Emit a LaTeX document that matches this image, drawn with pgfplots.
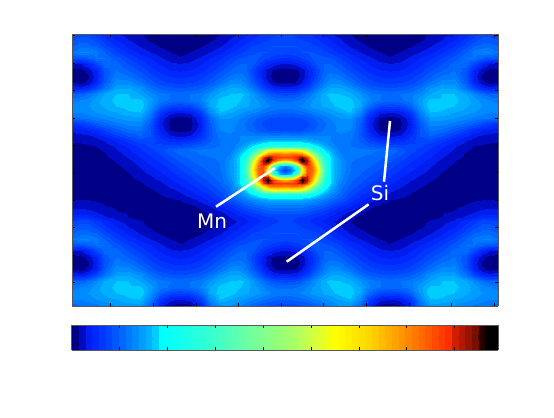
\documentclass[border=0pt]{standalone}
\usepackage{fontspec}
\setmainfont{DejaVu Sans}
\usepackage{pgfplots}
\usepackage{pgfplotstable}
\pgfplotsset{compat=1.18}
\pgfplotsset{colormap={hotjetbase}{
        rgb255(0)=(0,0,135) rgb255(1)=(0,10,190) rgb255(2)=(0,30,240)
        rgb255(3)=(0,40,255) rgb255(5)=(0,70,255) rgb255(8)=(0,120,255)
        rgb255(11)=(0,175,255) rgb255(12)=(0,205,255) rgb255(13)=(0,255,255)
        rgb255(20)=(50,255,210) rgb255(26)=(110,255,160) rgb255(33)=(170,255,100)
        rgb255(36)=(215,255,60) rgb255(39)=(255,255,0) rgb255(44)=(255,215,0)
        rgb255(50)=(255,135,0) rgb255(56)=(255,45,0) rgb255(57)=(210,30,0)
        rgb255(60)=(120,15,0) rgb255(61)=(40,0,0) rgb255(62)=(0,0,0) rgb255(63)=(0,0,0)
    },
    colormap={hotjet}{samples of colormap={64 of hotjetbase}}}
% left half of the map in image pixel coordinates, right half is the mirror about x=285
% upper band, repeats 187 px further down
\pgfplotstableread{
x y z
72 34 5
80 34 5.5
88 34 5.5
96 34 4.5
104 34 3.5
116 34 2.2
128 34 1.5
140 34 1.1
150 34 .7
160 34 .5
170 34 .3
180 34 .3
190 34 .3
200 34 .5
210 34 .7
220 34 1
230 34 1.6
240 34 2.2
246 34 2.8
252 34 3.3
258 34 3.8
263 34 4.2
268 34 4.5
273 34 4.8
279 34 5
285 34 5
72 40 6
80 40 6.5
88 40 6.5
96 40 5.5
104 40 4.5
116 40 3
128 40 2
140 40 1.3
150 40 .9
160 40 .6
170 40 .4
180 40 .3
190 40 .4
200 40 .6
210 40 .9
220 40 1.3
230 40 2.1
240 40 3
246 40 3.5
252 40 4
258 40 4.5
263 40 4.8
268 40 5
273 40 5.3
279 40 5.5
285 40 5.5
72 46 7
80 46 7.5
88 46 7.5
96 46 7
104 46 5.5
116 46 4
128 46 2.8
140 46 1.9
150 46 1.3
160 46 .9
170 46 .6
180 46 .5
190 46 .6
200 46 .9
210 46 1.3
220 46 1.9
230 46 2.8
240 46 3.8
246 46 4.4
252 46 5
258 46 5.3
263 46 5.6
268 46 5.8
273 46 6
279 46 6
285 46 6
72 52 8
80 52 9
88 52 9
96 52 8.5
104 52 7
116 52 5.2
128 52 3.8
140 52 2.7
150 52 2
160 52 1.4
170 52 1
180 52 .7
190 52 1
200 52 1.4
210 52 2
220 52 2.7
230 52 3.8
240 52 4.8
246 52 5.3
252 52 5.8
258 52 6
263 52 6
268 52 6
273 52 5.8
279 52 5.6
285 52 5.5
72 58 6
80 58 6
88 58 7
96 58 8
104 58 8
116 58 6.5
128 58 5
140 58 3.8
150 58 3
160 58 2.2
170 58 1.5
180 58 1.1
190 58 1.5
200 58 2.2
210 58 3
220 58 3.8
230 58 5
240 58 6
246 58 6.3
252 58 6.3
258 58 6
263 58 5.5
268 58 5
273 58 4.5
279 58 4
285 58 3.8
72 64 2
80 64 1.8
88 64 3
96 64 5.5
104 64 7.5
116 64 7.5
128 64 6
140 64 4.8
150 64 3.8
160 64 2.9
170 64 2.3
180 64 2.1
190 64 2.3
200 64 2.9
210 64 3.8
220 64 4.8
230 64 6
240 64 7
246 64 7
252 64 6.5
258 64 5
263 64 4
268 64 3.2
273 64 2.5
279 64 2
285 64 1.8
72 70 .8
80 70 .6
88 70 1.3
96 70 3
104 70 6.5
116 70 8
128 70 7
140 70 5.8
150 70 4.5
160 70 3.6
170 70 3
180 70 2.8
190 70 3
200 70 3.6
210 70 4.5
220 70 5.8
230 70 7
240 70 7.5
246 70 7
252 70 5.5
258 70 3.8
263 70 2.5
268 70 1.5
273 70 .9
279 70 .7
285 70 .6
72 76 .6
80 76 .4
88 76 .9
96 76 2.5
104 76 6
116 76 8.8
128 76 8.2
140 76 6.8
150 76 5.5
160 76 4.5
170 76 3.9
180 76 3.7
190 76 3.9
200 76 4.5
210 76 5.5
220 76 6.8
230 76 8.2
240 76 8.6
246 76 7.8
252 76 6
258 76 4
263 76 2.5
268 76 1.3
273 76 .7
279 76 .5
285 76 .4
72 82 .9
80 82 .6
88 82 1.2
96 82 3
104 82 6.5
116 82 9.5
128 82 9.5
140 82 8
150 82 6.5
160 82 5.4
170 82 4.9
180 82 4.6
190 82 4.9
200 82 5.4
210 82 6.5
220 82 8
230 82 9.5
240 82 9.5
246 82 8.5
252 82 6.8
258 82 5
263 82 3.3
268 82 2
273 82 1.1
279 82 .8
285 82 .7
72 88 3
80 88 2.5
88 88 3.5
96 88 5.5
104 88 8
116 88 10.8
128 88 11
140 88 10
150 88 8
160 88 6.8
170 88 6.3
180 88 6
190 88 6.3
200 88 6.8
210 88 8.2
220 88 10
230 88 11
240 88 11
246 88 10
252 88 8.5
258 88 6.8
263 88 5.3
268 88 4
273 88 3
279 88 2.6
285 88 2.5
72 94 7
80 94 7
88 94 8
96 94 9.5
104 94 11
116 94 12
128 94 12
140 94 11
150 94 9.5
160 94 8.5
170 94 8
180 94 7.8
190 94 8
200 94 8.5
210 94 10
220 94 11.5
230 94 12
240 94 12.3
246 94 11.8
252 94 10.5
258 94 9
263 94 8
268 94 7
273 94 6.2
279 94 5.8
285 94 5.6
72 100 8.5
80 100 9
88 100 9.5
96 100 10.5
104 100 11.5
116 100 12.3
128 100 12.3
140 100 12.3
150 100 10.5
160 100 8.5
170 100 7.8
180 100 7.5
190 100 8
200 100 9
210 100 11
220 100 12.3
230 100 12.2
240 100 12
246 100 11.5
252 100 10.8
258 100 10
263 100 9.3
268 100 8.5
273 100 8
279 100 7.8
285 100 7.8
72 106 9.3
80 106 9.5
88 106 10
96 106 10.5
104 106 11.2
116 106 12
128 106 12.5
140 106 12.8
150 106 10.2
160 106 7
170 106 5.5
180 106 5
190 106 5.5
200 106 7.5
210 106 11
220 106 12.8
230 106 12.5
240 106 11.5
246 106 11.2
252 106 10.8
258 106 10.3
263 106 9.8
268 106 9.3
273 106 8.8
279 106 8.5
285 106 8.5
72 112 9
80 112 9
88 112 9.5
96 112 10
104 112 10.5
116 112 11
128 112 11.8
140 112 12
150 112 9
160 112 4.5
170 112 2.5
180 112 2
190 112 2.5
200 112 4.8
210 112 9.5
220 112 12
230 112 11.2
240 112 10.3
246 112 9.8
252 112 9.3
258 112 8.8
263 112 8.2
268 112 7.8
273 112 7.5
279 112 7.2
285 112 7.2
72 118 7.5
80 118 8
88 118 8.3
96 118 8.8
104 118 9.3
116 118 10
128 118 10.5
140 118 10.5
150 118 7.5
160 118 2.8
170 118 1
180 118 .5
190 118 .8
200 118 2.8
210 118 7.5
220 118 10
230 118 10
240 118 9
246 118 8.3
252 118 7.5
258 118 6.8
263 118 6.2
268 118 6
273 118 5.8
279 118 5.7
285 118 5.7
72 124 4
80 124 4.5
88 124 5.5
96 124 6.5
104 124 7.5
116 124 8.5
128 124 9.3
140 124 9.3
150 124 6.5
160 124 2.3
170 124 .8
180 124 .3
190 124 .6
200 124 2.3
210 124 6.8
220 124 9.5
230 124 9.5
240 124 8.5
246 124 7.8
252 124 7
258 124 6.3
263 124 5.8
268 124 5.6
273 124 5.5
279 124 5.4
285 124 5.4
72 130 2.2
80 130 2.5
88 130 3
96 130 3.8
104 130 5
116 130 6.5
128 130 7.8
140 130 8.2
150 130 6.2
160 130 2.8
170 130 1
180 130 .6
190 130 .9
200 130 2.8
210 130 6.5
220 130 9
230 130 9.3
240 130 8.7
246 130 8.2
252 130 7.5
258 130 6.8
263 130 6.3
268 130 6
273 130 5.9
279 130 5.9
285 130 6
}\upperband
% middle band with the basins and the ring
\pgfplotstableread{
x y z
72 130 2.2
80 130 2.5
88 130 3
96 130 3.8
104 130 5
116 130 6.5
128 130 7.8
140 130 8.2
150 130 6.2
160 130 2.8
170 130 1
180 130 .6
190 130 .9
200 130 2.8
210 130 6.5
220 130 9
230 130 9.3
240 130 8.7
246 130 8.2
252 130 7.5
258 130 6.8
263 130 6.3
268 130 6
273 130 5.9
279 130 5.9
285 130 6
72 136 1.5
80 136 1.6
88 136 1.8
96 136 2.2
104 136 3
116 136 4.5
128 136 6
140 136 7
150 136 6
160 136 3.8
170 136 2.2
180 136 1.8
190 136 2.2
200 136 3.8
210 136 6.5
220 136 8.5
230 136 8.8
240 136 9
246 136 9
252 136 9
258 136 9
263 136 9
268 136 9
273 136 9
279 136 9
285 136 9
72 140 1.2
80 140 1.2
88 140 1.3
96 140 1.6
104 140 2.1
116 140 3.2
128 140 4.5
140 140 5.8
150 140 5.8
160 140 4.5
170 140 3.5
180 140 3.2
190 140 3.8
200 140 5
210 140 6.8
220 140 8
230 140 8.3
240 140 9
246 140 9.5
252 140 10
258 140 10.5
263 140 11
268 140 11
273 140 11
279 140 11
285 140 11
72 146 .8
80 146 .8
88 146 .9
96 146 1
104 146 1.4
116 146 2.2
128 146 3.2
140 146 4.3
150 146 5.2
160 146 5.5
170 146 5.5
180 146 5.8
190 146 6.3
200 146 6.8
210 146 7.5
220 146 8
230 146 8.3
240 146 10
246 146 11.5
252 146 13
258 146 14.5
263 146 16
268 146 17
273 146 17.5
279 146 18
285 146 18
72 150 .7
80 150 .7
88 150 .7
96 150 .8
104 150 1.1
116 150 1.9
128 150 2.8
140 150 3.8
150 150 4.7
160 150 5.5
170 150 6.8
180 150 7.8
190 150 8
200 150 8.2
210 150 8.4
220 150 8.5
230 150 8.5
240 150 11.5
246 150 13
252 150 16
258 150 24
263 150 32
268 150 38
273 150 40
279 150 40
285 150 40
72 154 .6
80 154 .6
88 154 .6
96 154 .7
104 154 .9
116 154 1.5
128 154 2.4
140 154 3.3
150 154 4.2
160 154 5
170 154 6.2
180 154 7.2
190 154 7.6
200 154 8
210 154 8.2
220 154 8.3
230 154 9
240 154 12.5
246 154 15
252 154 24
258 154 33
263 154 43
268 154 50
273 154 52
279 154 52
285 154 51
72 157 .5
80 157 .5
88 157 .5
96 157 .6
104 157 .8
116 157 1.3
128 157 2.1
140 157 3
150 157 3.8
160 157 4.7
170 157 5.7
180 157 6.8
190 157 7.3
200 157 7.7
210 157 8
220 157 8.2
230 157 9.5
240 157 13
246 157 17
252 157 28
258 157 42
263 157 55
268 157 60
273 157 57
279 157 55
285 157 55
72 160 .5
80 160 .5
88 160 .5
96 160 .5
104 160 .7
116 160 1.1
128 160 1.8
140 160 2.7
150 160 3.5
160 160 4.3
170 160 5.2
180 160 6.3
190 160 7
200 160 7.5
210 160 7.8
220 160 8.1
230 160 10
240 160 13
246 160 19
252 160 32
258 160 47
263 160 59
268 160 63.5
273 160 56
279 160 50
285 160 47
72 163 .4
80 163 .4
88 163 .4
96 163 .4
104 163 .6
116 163 1
128 163 1.5
140 163 2.4
150 163 3.2
160 163 3.9
170 163 4.8
180 163 5.9
190 163 6.7
200 163 7.3
210 163 7.7
220 163 8
230 163 10
240 163 13
246 163 20
252 163 35
258 163 50
263 163 58
268 163 59
273 163 44
279 163 30
285 163 28
72 166 .3
80 166 .3
88 166 .3
96 166 .4
104 166 .5
116 166 .8
128 166 1.3
140 166 2.1
150 166 2.9
160 166 3.6
170 166 4.4
180 166 5.4
190 166 6.3
200 166 7
210 166 7.5
220 166 8
230 166 10
240 166 13
246 166 21
252 166 38
258 166 52
263 166 55
268 166 45
273 166 22
279 166 12
285 166 9
72 170 .3
80 170 .3
88 170 .3
96 170 .3
104 170 .4
116 170 .7
128 170 1.1
140 170 1.8
150 170 2.5
160 170 3.2
170 170 4
180 170 4.9
190 170 5.9
200 170 6.7
210 170 7.3
220 170 8
230 170 10
240 170 13
246 170 23
252 170 41
258 170 53
263 170 54
268 170 39
273 170 15
279 170 8
285 170 4.5
72 174 .3
80 174 .3
88 174 .3
96 174 .3
104 174 .3
116 174 .5
128 174 .9
140 174 1.5
150 174 2.1
160 174 2.8
170 174 3.5
180 174 4.4
190 174 5.3
200 174 6.2
210 174 7
220 174 7.7
230 174 10
240 174 13
246 174 21
252 174 38
258 174 52
263 174 55
268 174 45
273 174 22
279 174 12
285 174 9
72 177 .3
80 177 .3
88 177 .3
96 177 .3
104 177 .3
116 177 .5
128 177 .8
140 177 1.3
150 177 1.8
160 177 2.4
170 177 3.1
180 177 4
190 177 4.9
200 177 5.8
210 177 6.7
220 177 7.5
230 177 9.8
240 177 13
246 177 20
252 177 35
258 177 50
263 177 58
268 177 59
273 177 44
279 177 30
285 177 28
72 180 .3
80 180 .3
88 180 .3
96 180 .3
104 180 .3
116 180 .4
128 180 .7
140 180 1.1
150 180 1.6
160 180 2.1
170 180 2.8
180 180 3.6
190 180 4.5
200 180 5.4
210 180 6.4
220 180 7.3
230 180 9.5
240 180 13
246 180 19
252 180 32
258 180 47
263 180 59
268 180 63.5
273 180 56
279 180 50
285 180 47
72 183 .3
80 183 .3
88 183 .3
96 183 .3
104 183 .3
116 183 .4
128 183 .6
140 183 .9
150 183 1.3
160 183 1.8
170 183 2.5
180 183 3.2
190 183 4.1
200 183 5
210 183 6
220 183 7
230 183 9
240 183 13
246 183 17
252 183 28
258 183 42
263 183 55
268 183 60
273 183 57
279 183 55
285 183 55
72 186 .3
80 186 .3
88 186 .3
96 186 .3
104 186 .3
116 186 .3
128 186 .5
140 186 .8
150 186 1.1
160 186 1.5
170 186 2.2
180 186 2.8
190 186 3.6
200 186 4.6
210 186 5.6
220 186 6.7
230 186 8.5
240 186 12
246 186 15
252 186 24
258 186 33
263 186 43
268 186 50
273 186 52
279 186 52
285 186 51
72 190 .4
80 190 .4
88 190 .3
96 190 .3
104 190 .3
116 190 .3
128 190 .4
140 190 .6
150 190 .9
160 190 1.2
170 190 1.7
180 190 2.3
190 190 3
200 190 4
210 190 5
220 190 6.2
230 190 8
240 190 11
246 190 13
252 190 16
258 190 24
263 190 32
268 190 38
273 190 40
279 190 40
285 190 40
72 194 .6
80 194 .5
88 194 .5
96 194 .4
104 194 .3
116 194 .3
128 194 .4
140 194 .5
150 194 .7
160 194 1
170 194 1.3
180 194 1.8
190 194 2.5
200 194 3.3
210 194 4.3
220 194 5.5
230 194 7.5
240 194 9.5
246 194 11
252 194 13
258 194 14.5
263 194 16
268 194 17
273 194 17.5
279 194 18
285 194 18
72 200 1
80 200 1
88 200 1
96 200 .9
104 200 .7
116 200 .5
128 200 .4
140 200 .4
150 200 .5
160 200 .7
170 200 .8
180 200 1
190 200 1.5
200 200 2.3
210 200 3.3
220 200 4.5
230 200 6
240 200 7.5
246 200 8.5
252 200 9.3
258 200 10
263 200 10.5
268 200 11
273 200 11
279 200 11
285 200 11
72 206 1.7
80 206 1.7
88 206 1.6
96 206 1.4
104 206 1.1
116 206 .8
128 206 .5
140 206 .4
150 206 .4
160 206 .5
170 206 .5
180 206 .6
190 206 .8
200 206 1.2
210 206 2
220 206 3
230 206 4
240 206 5.5
246 206 6.5
252 206 7
258 206 7.5
263 206 8
268 206 8.5
273 206 8.5
279 206 8.5
285 206 8.5
72 212 2.5
80 212 2.5
88 212 2.3
96 212 2
104 212 1.6
116 212 1.1
128 212 .9
140 212 .5
150 212 .4
160 212 .4
170 212 .4
180 212 .4
190 212 .5
200 212 .7
210 212 1.2
220 212 1.8
230 212 2.6
240 212 3.8
246 212 4.5
252 212 5
258 212 5.5
263 212 6
268 212 6.3
273 212 6.5
279 212 6.5
285 212 6.5
72 217 3.5
80 217 3.8
88 217 3.5
96 217 2.8
104 217 2.2
116 217 1.5
128 217 1
140 217 .7
150 217 .5
160 217 .4
170 217 .3
180 217 .3
190 217 .4
200 217 .5
210 217 .8
220 217 1.2
230 217 2
240 217 2.8
246 217 3.3
252 217 3.8
258 217 4.2
263 217 4.6
268 217 4.9
273 217 5
279 217 5.2
285 217 5.2
72 221 5
80 221 5.5
88 221 5.5
96 221 4.5
104 221 3.5
116 221 2.2
128 221 1.5
140 221 1.1
150 221 .7
160 221 .5
170 221 .3
180 221 .3
190 221 .3
200 221 .5
210 221 .7
220 221 1
230 221 1.6
240 221 2.2
246 221 2.8
252 221 3.3
258 221 3.8
263 221 4.2
268 221 4.5
273 221 4.8
279 221 5
285 221 5
}\middleband
\begin{document}
\begin{tikzpicture}
\useasboundingbox (-54pt,-84pt) rectangle ++(415.5pt,313.5pt);
\begin{axis}[
    scale only axis,width=319.5pt,height=204pt,
    view={0}{90},
    xmin=72,xmax=498,ymin=34,ymax=306,y dir=reverse,
    xtick={110.7,153.3,195.9,238.5,281.1,323.7,366.3,408.9,451.5,494.1},
    ytick={35.7,63.1,90.5,117.9,145.3,172.7,200.1,227.5,254.9,282.3},
    xticklabels={},yticklabels={},
    tick align=inside,tick style={black,line width=.5pt},
    major tick length=2.6pt,
    axis line style={black!65,line width=.75pt},
    colormap name=hotjet,
    colormap access=piecewise constant,
    point meta min=0,point meta max=64,
    colorbar horizontal,
    colorbar style={
        at={(0,-0.0699)},anchor=north west,
        width=319.5pt,height=18.75pt,
        xtick={7.18,14.37,21.55,28.74,35.92,43.1,50.29,57.47},
        xticklabels={},
        tick align=inside,
        xtick pos=both,
        major tick length=2.6pt,
        axis line style={black!65,line width=.75pt},
    },
]
\addplot3[surf,shader=interp,mesh/cols=26] table[x=x,y=y,z=z] {\upperband};
\addplot3[surf,shader=interp,mesh/cols=26] table[x expr={570-\thisrow{x}},y=y,z=z] {\upperband};
\addplot3[surf,shader=interp,mesh/cols=26] table[x=x,y expr={\thisrow{y}+187},z=z] {\upperband};
\addplot3[surf,shader=interp,mesh/cols=26] table[x expr={570-\thisrow{x}},y expr={\thisrow{y}+187},z=z] {\upperband};
\addplot3[surf,shader=interp,mesh/cols=26] table[x=x,y=y,z=z] {\middleband};
\addplot3[surf,shader=interp,mesh/cols=26] table[x expr={570-\thisrow{x}},y=y,z=z] {\middleband};
\addplot3[white,line width=1.9pt,no marks] coordinates {(216,206.7,70) (275,168,70)};
\addplot3[white,line width=1.9pt,no marks] coordinates {(384,181.7,70) (390,121,70)};
\addplot3[white,line width=1.9pt,no marks] coordinates {(368.7,204.3,70) (286.7,261.7,70)};
\node[white,font=\fontsize{15}{18}\selectfont] at (axis cs:212,221,70) {Mn};
\node[white,font=\fontsize{15}{18}\selectfont] at (axis cs:380,193.5,70) {Si};
\end{axis}
\end{tikzpicture}
\end{document}
